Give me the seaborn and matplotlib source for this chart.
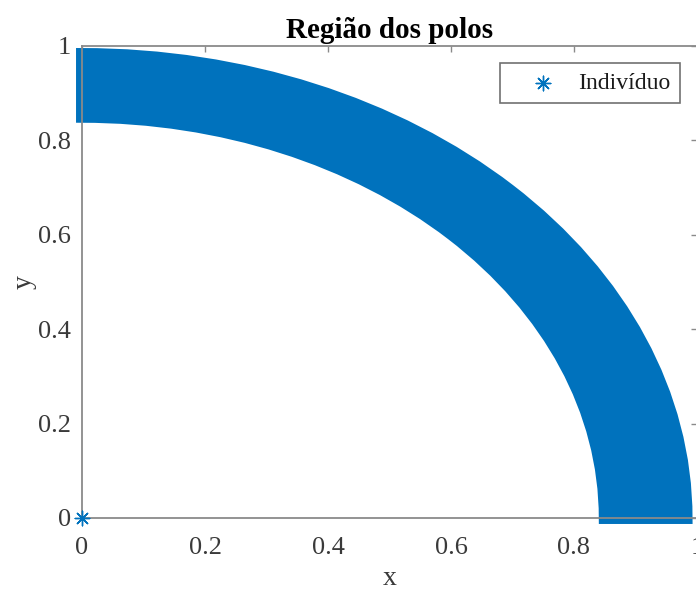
import matplotlib
matplotlib.use("Agg")
import matplotlib.pyplot as plt
from matplotlib.patches import Wedge
import seaborn as sns
import pandas as pd

# Region occupied by the population (quarter annulus around the origin)
region_inner_radius = 0.85
region_outer_radius = 0.983
region_angles = [0, 90]  # degrees

# Single highlighted individual
ind_x = [0.0]
ind_y = [0.0]

tick_values = [0, 0.2, 0.4, 0.6, 0.8, 1]
tick_labels = ["0", "0.2", "0.4", "0.6", "0.8", "1"]

title_text = "Região dos polos"
legend_label = "Indivíduo"

blue = "#0072BD"
spine_gray = "#8a8a8a"
text_dark = "#3a3a3a"

sns.set_style("white")
plt.rcParams["font.family"] = ["Liberation Serif", "DejaVu Serif"]

fig = plt.figure(figsize=(6.96, 5.92), dpi=100)
ax = fig.add_axes([82 / 696, 74 / 592, 615 / 696, 472 / 592])

band = Wedge((0, 0), region_outer_radius, region_angles[0], region_angles[1],
             width=region_outer_radius - region_inner_radius,
             facecolor=blue, edgecolor=blue, linewidth=8.6,
             joinstyle="miter", clip_on=False, zorder=2)
ax.add_patch(band)

df = pd.DataFrame({"x": ind_x, "y": ind_y})
sns.scatterplot(data=df, x="x", y="y", ax=ax, marker=(8, 2, 0), s=110,
                color=blue, edgecolor=blue, linewidth=1.0,
                label=legend_label, clip_on=False, zorder=3)

ax.set_xlim(0, 1)
ax.set_ylim(0, 1)
ax.set_xticks(tick_values)
ax.set_xticklabels(tick_labels)
ax.set_yticks(tick_values)
ax.set_yticklabels(tick_labels)

ax.tick_params(axis="both", which="both", direction="in", length=4, width=1,
               color=spine_gray, labelcolor=text_dark, labelsize=19,
               top=True, right=True)
ax.tick_params(axis="y", pad=8)
ax.tick_params(axis="x", pad=13.5)

for sp in ax.spines.values():
    sp.set_visible(True)
    sp.set_color(spine_gray)
    sp.set_linewidth(1.3)

ax.set_xlabel("x", fontsize=20, color=text_dark, labelpad=5)
ax.set_ylabel("y", fontsize=20, color=text_dark, labelpad=1)
ax.set_title(title_text, fontsize=21, fontweight="bold", color="black", pad=6)

leg = ax.legend(loc="upper right", bbox_to_anchor=(0.972, 0.964),
                borderaxespad=0, fontsize=17, frameon=True, fancybox=False,
                handlelength=2.8, handletextpad=0.1, borderpad=0.4)
leg.get_frame().set_edgecolor("#4d4d4d")
leg.get_frame().set_linewidth(1.2)
for t in leg.get_texts():
    t.set_color("#1a1a1a")

fig.savefig("out.png", dpi=100)
